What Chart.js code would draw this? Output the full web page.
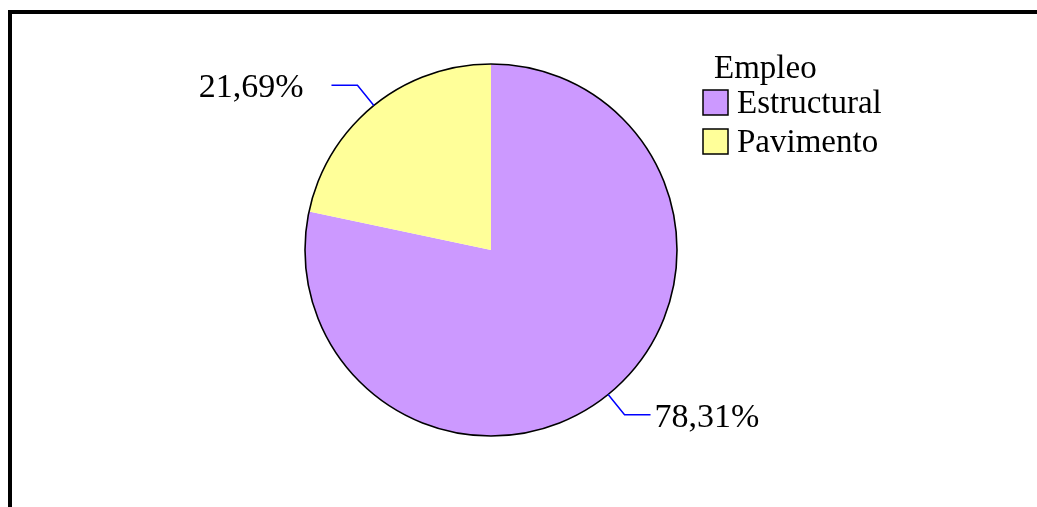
<!DOCTYPE html>
<html>
<head>
<meta charset="utf-8">
<script src="https://cdn.jsdelivr.net/npm/chart.js@4/dist/chart.umd.min.js"></script>
<style>
  html, body { margin: 0; padding: 0; background: #fff; overflow: hidden; }
</style>
</head>
<body>
<canvas id="myChart" width="1037" height="507"></canvas>
<script>
const categories = ['Estructural', 'Pavimento'];
const shares = [78.31, 21.69];
const sliceColors = ['#CC99FF', '#FFFF99'];
const legendTitle = 'Empleo';

const FONT = '34px "Liberation Serif", "Times New Roman", serif';
const LEGEND_FONT = '33px "Liberation Serif", "Times New Roman", serif';

const fmt = v => v.toFixed(2).replace('.', ',') + '%';

// cadre noir (haut + gauche) et fond blanc
const framePlugin = {
  id: 'frame',
  beforeDraw(chart) {
    const ctx = chart.ctx;
    ctx.save();
    ctx.fillStyle = '#fff';
    ctx.fillRect(0, 0, chart.width, chart.height);
    ctx.fillStyle = '#000';
    ctx.fillRect(8, 10, chart.width - 8, 4);
    ctx.fillRect(8, 10, 4, chart.height - 10);
    ctx.restore();
  }
};

// contour extérieur du camembert seulement
const outlinePlugin = {
  id: 'outline',
  afterDatasetsDraw(chart) {
    const arc = chart.getDatasetMeta(0).data[0];
    if (!arc) return;
    const ctx = chart.ctx;
    ctx.save();
    ctx.strokeStyle = '#000';
    ctx.lineWidth = 1.6;
    ctx.beginPath();
    ctx.arc(arc.x, arc.y, arc.outerRadius, 0, Math.PI * 2);
    ctx.stroke();
    ctx.restore();
  }
};

// étiquettes avec lignes de rappel
const labelPlugin = {
  id: 'leaders',
  afterDraw(chart) {
    const ctx = chart.ctx;
    const arcs = chart.getDatasetMeta(0).data;
    ctx.save();
    ctx.font = FONT;
    ctx.textBaseline = 'middle';
    arcs.forEach((arc, i) => {
      const mid = (arc.startAngle + arc.endAngle) / 2;
      const c = Math.cos(mid), s = Math.sin(mid);
      const r = arc.outerRadius;
      const x0 = arc.x + r * c, y0 = arc.y + r * s;
      const x1 = arc.x + (r + 26) * c, y1 = arc.y + (r + 26) * s;
      const side = c >= 0 ? 1 : -1;
      const x2 = x1 + side * 26;
      ctx.strokeStyle = '#0000FF';
      ctx.lineWidth = 1.5;
      ctx.beginPath();
      ctx.moveTo(x0, y0);
      ctx.lineTo(x1, y1);
      ctx.lineTo(x2, y1);
      ctx.stroke();
      ctx.fillStyle = '#000';
      ctx.textAlign = side > 0 ? 'left' : 'right';
      const gap = side > 0 ? 4 : 28;
      ctx.fillText(fmt(shares[i]), x2 + side * gap, y1 + 3);
    });
    ctx.restore();
  }
};

// légende à droite
const legendPlugin = {
  id: 'customLegend',
  afterDraw(chart) {
    const ctx = chart.ctx;
    ctx.save();
    ctx.font = LEGEND_FONT;
    ctx.textBaseline = 'middle';
    ctx.textAlign = 'left';
    ctx.fillStyle = '#000';
    ctx.fillText(legendTitle, 714, 69);
    categories.forEach((name, i) => {
      const y = 90 + i * 39;
      ctx.fillStyle = sliceColors[i];
      ctx.fillRect(703, y, 25, 25);
      ctx.strokeStyle = '#000';
      ctx.lineWidth = 1.5;
      ctx.strokeRect(703, y, 25, 25);
      ctx.fillStyle = '#000';
      ctx.fillText(name, 737, y + 14);
    });
    ctx.restore();
  }
};

let myChart;

const setup = () => {
  const context = document.getElementById('myChart').getContext('2d');
  myChart = new Chart(context, {
    type: 'pie',
    data: {
      labels: categories,
      datasets: [{
        data: shares,
        backgroundColor: sliceColors,
        borderWidth: 0
      }]
    },
    options: {
      responsive: false,
      devicePixelRatio: 1,
      animation: false,
      layout: { padding: { top: 64, bottom: 71, left: 0, right: 55 } },
      plugins: {
        legend: { display: false },
        tooltip: { enabled: false }
      }
    },
    plugins: [framePlugin, outlinePlugin, labelPlugin, legendPlugin]
  });
};

window.addEventListener('DOMContentLoaded', setup);
</script>
</body>
</html>
